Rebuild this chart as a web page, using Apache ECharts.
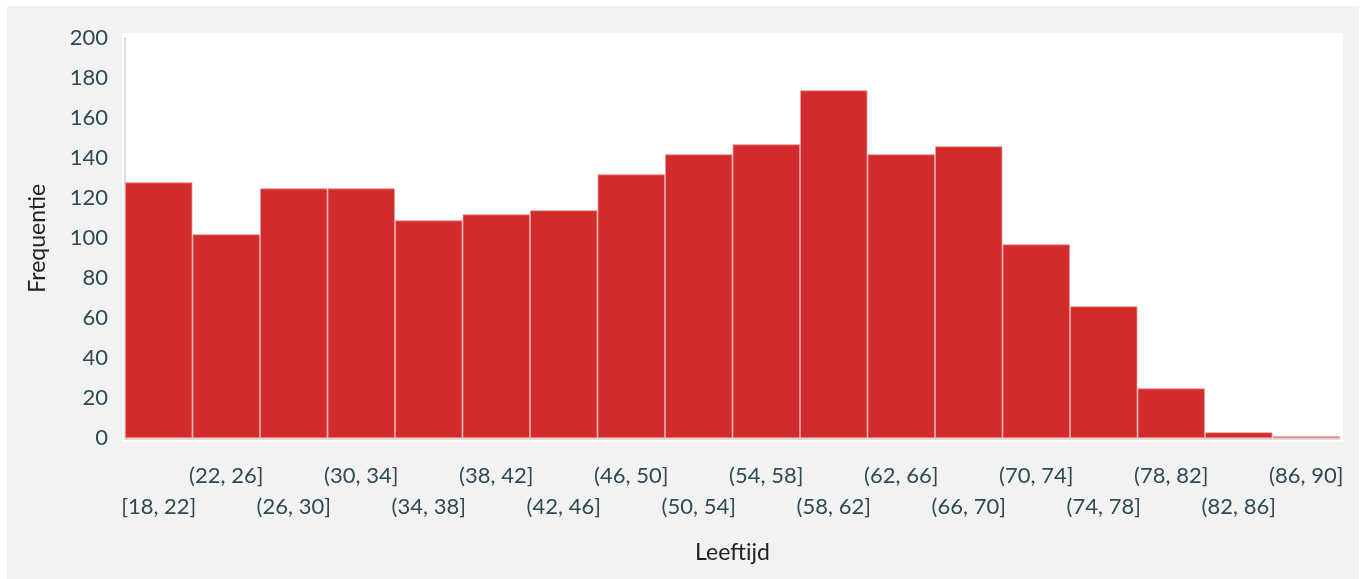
<!DOCTYPE html>
<html>
<head>
<meta charset="utf-8">
<script src="https://cdn.jsdelivr.net/npm/echarts@6/dist/echarts.min.js"></script>
<style>
  html, body { margin: 0; padding: 0; background: #ffffff; }
  #chart { width: 1362px; height: 579px; }
</style>
</head>
<body>
<div id="chart"></div>
<script>
const categories = ['[18, 22]', '(22, 26]', '(26, 30]', '(30, 34]', '(34, 38]', '(38, 42]',
  '(42, 46]', '(46, 50]', '(50, 54]', '(54, 58]', '(58, 62]', '(62, 66]',
  '(66, 70]', '(70, 74]', '(74, 78]', '(78, 82]', '(82, 86]', '(86, 90]'];
const frequencies = [128, 102, 125, 125, 109, 112, 114, 132, 142, 147, 174, 142, 146, 97, 66, 25, 3, 1];
const yTicks = { min: 0, max: 200, interval: 20 };

const chart = echarts.init(document.getElementById('chart'));
const labelColor = '#2e4a54';
const fontFamily = 'Lato, "Open Sans", sans-serif';

chart.setOption({
  backgroundColor: '#ffffff',
  animation: false,
  graphic: [
    { type: 'rect', z: -20, silent: true, shape: { x: 7, y: 6, width: 1352, height: 573 }, style: { fill: '#f2f2f2' } },
    { type: 'rect', z: -10, silent: true, shape: { x: 122, y: 33, width: 1221, height: 409 }, style: { fill: '#ffffff' } }
  ],
  grid: { left: 125, top: 38.3, width: 1215, height: 400, containLabel: false },
  xAxis: {
    type: 'category',
    data: categories,
    name: 'Leeftijd',
    nameLocation: 'middle',
    nameGap: 103,
    nameTextStyle: { color: '#222222', fontSize: 23, fontFamily: fontFamily },
    axisLine: { show: true, lineStyle: { color: '#dddddd', width: 2 } },
    axisTick: { show: false },
    axisLabel: {
      interval: 0,
      margin: 22,
      color: labelColor,
      fontSize: 22,
      fontFamily: fontFamily,
      lineHeight: 31,
      formatter: function (v, i) { return i % 2 === 0 ? '\n' + v : v; }
    }
  },
  yAxis: {
    type: 'value',
    min: yTicks.min,
    max: yTicks.max,
    interval: yTicks.interval,
    name: 'Frequentie',
    nameLocation: 'middle',
    nameRotate: 90,
    nameGap: 76,
    nameTextStyle: { color: '#222222', fontSize: 23, fontFamily: fontFamily },
    axisLine: { show: true, lineStyle: { color: '#dddddd', width: 2 } },
    axisTick: { show: false },
    splitLine: { show: false },
    axisLabel: { margin: 17, color: labelColor, fontSize: 22, fontFamily: fontFamily, padding: [3, 0, 0, 0] }
  },
  series: [{
    type: 'bar',
    data: frequencies,
    barCategoryGap: 0,
    itemStyle: { color: '#d12c2b', borderColor: 'rgba(240,150,150,0.8)', borderWidth: 1 }
  }]
});
</script>
</body>
</html>
